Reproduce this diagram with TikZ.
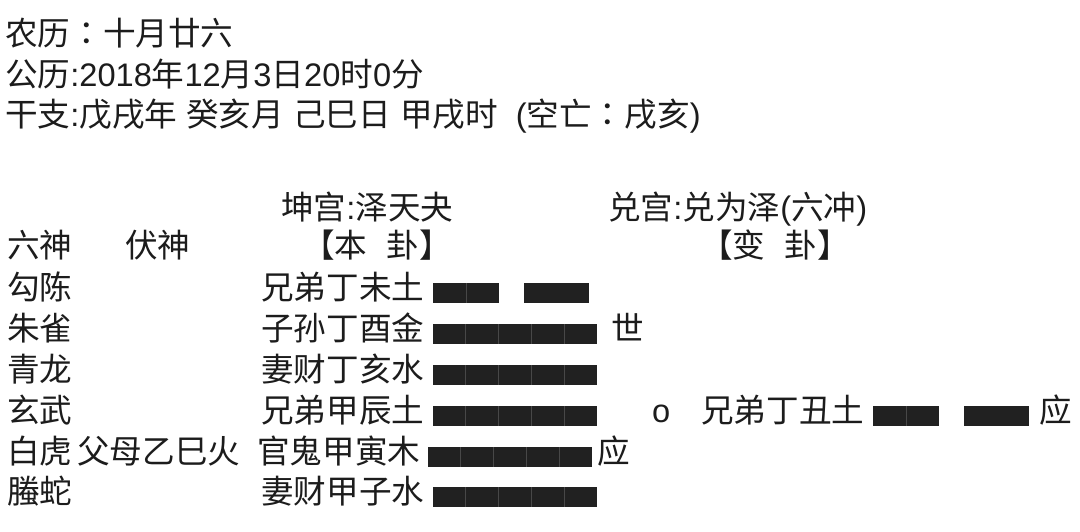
\documentclass[tikz,border=0pt]{standalone}
\usepackage{fontspec}
\setmainfont{Noto Sans CJK SC}
\newfontfamily\latf{Liberation Sans}
\newfontfamily\cjktc{Noto Sans CJK TC}
\newcommand\fwcolon{{\cjktc ：}}
\definecolor{ink}{RGB}{28,28,28}
\definecolor{barc}{RGB}{33,33,33}
\definecolor{sepc}{RGB}{72,72,72}
\begin{document}
\begin{tikzpicture}[x=1pt,y=-1pt,
  txt/.style={anchor=base west, inner sep=0pt, font=\fontsize{32.6}{36}\selectfont, text=ink},
  ctxt/.style={txt, anchor=base},
  yangbar/.pic={\fill[barc] (0,-10) rectangle (164,10);
    \foreach \i in {1,...,4} \draw[sepc, line width=0.8pt] (32.8*\i,-10) -- (32.8*\i,10);},
  yinbar/.pic={\fill[barc] (0,-10) rectangle (66,10);
    \fill[barc] (91,-10) rectangle (156,10);
    \draw[sepc, line width=0.8pt] (33,-10) -- (33,10);}
]
\useasboundingbox[fill=white] (0,0) rectangle (1080,532);
% header lines
\node[txt] (l1) at (5,46) {农历\fwcolon 十月廿六};
\node[txt] (l2) at (5,87) {公历{\latf :2018}年{\latf 12}月{\latf 3}日{\latf 20}时{\latf 0}分};
\node[txt] (l3) at (5,127) {干支{\latf :}戊戌年{\latf\ }癸亥月{\latf\ }己巳日{\latf\ }甲戌时{\latf\ \ (}空亡\fwcolon 戌亥{\latf )}};
% gua titles
\node[txt] (bgt) at (281,219) {坤宫{\latf :}泽天夬};
\node[txt] (cgt) at (608,219) {兑宫{\latf :}兑为泽{\latf (}六冲{\latf )}};
\node[txt] (hls) at (7,258) {六神};
\node[txt] (hfs) at (125,258) {伏神};
\node[ctxt] (hbg) at (377,258) {【本\hspace{19pt}卦】};
\node[ctxt] (hcg) at (775,258) {【变\hspace{19pt}卦】};
% six spirits
\node[txt] (s1) at (7,299) {勾陈};
\node[txt] (s2) at (7,340) {朱雀};
\node[txt] (s3) at (7,381) {青龙};
\node[txt] (s4) at (7,422) {玄武};
\node[txt] (s5) at (7,463) {白虎};
\node[txt] (s6) at (7,503) {螣蛇};
% hidden spirit
\node[txt] (f5) at (77,463) {父母乙巳火};
% main gua lines
\node[txt] (b1) at (261,299) {兄弟丁未土};
\node[txt] (b2) at (261,340) {子孙丁酉金};
\node[txt] (b3) at (261,381) {妻财丁亥水};
\node[txt] (b4) at (261,422) {兄弟甲辰土};
\node[txt] (b5) at (257,463) {官鬼甲寅木};
\node[txt] (b6) at (261,503) {妻财甲子水};
\pic at (433,293) {yinbar};
\pic at (433,334) {yangbar};
\pic at (433,375) {yangbar};
\pic at (433,416) {yangbar};
\pic at (428,457) {yangbar};
\pic at (433,497) {yangbar};
\node[txt] (shi) at (611,340) {世};
\node[txt] (ying) at (597,463) {应};
% changed line
\node[txt] (mov) at (652,422) {\latf o};
\node[txt] (c4) at (701,422) {兄弟丁丑土};
\pic at (873,416) {yinbar};
\node[txt] (ying2) at (1039,422) {应};
\end{tikzpicture}
\end{document}
